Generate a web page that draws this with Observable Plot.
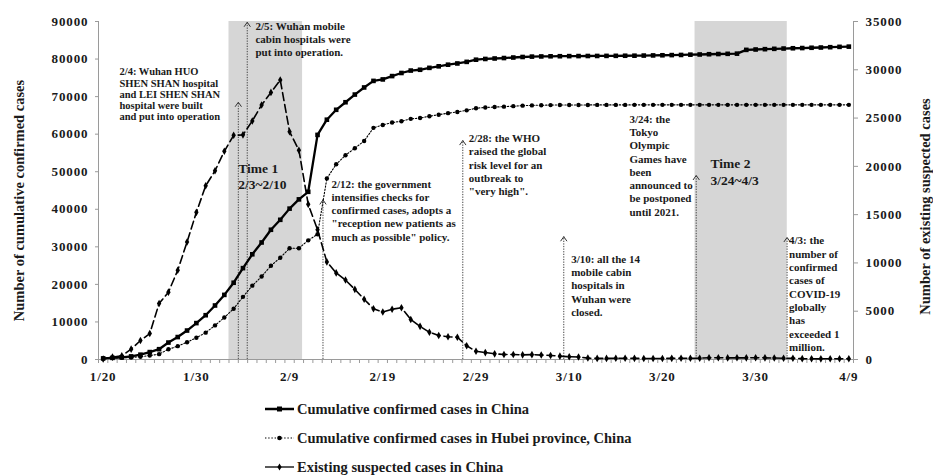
<!DOCTYPE html>
<html><head><meta charset="utf-8">
<script src="https://cdn.jsdelivr.net/npm/d3@7"></script>
<script src="https://cdn.jsdelivr.net/npm/@observablehq/plot@0.6"></script>
<style>
body{margin:0;background:#fff;width:933px;height:476px;overflow:hidden}
#chart svg{display:block}
g[aria-label="y-axis tick label"] text, g[aria-label="x-axis tick label"] text{letter-spacing:0.9px}
.legend{height:86px;padding-top:4.5px;font:bold 14.5px "Liberation Serif","Times New Roman",serif;color:#1a1a1a}
.row{height:29px;display:flex;align-items:center;padding-left:265px}
.row svg{margin-right:3px;display:block}
</style></head><body><div id="chart"></div><div class="legend" id="legend"></div>
<script>
// ---- data ----
const startDate = "2020-01-20";
const china = [291,440,571,830,1287,1975,2744,4515,5974,7711,9692,11791,
  14380,17205,20438,24324,28018,31161,34546,37198,40171,42638,44653,59804,63851,66492,68500,70548,72436,74185,74576,75465,76288,76936,77150,77658,78064,78497,78824,79251,79824,
  80026,80151,80270,80409,80552,80651,80695,80735,80754,80778,80793,80813,80824,80844,80860,80881,80894,80928,80967,81008,81054,81093,81171,81218,81285,81340,81394,81439,82447,82545,82632,
  82724,82802,82875,82930,83005,83071,83158,83249,83306];
const hubei = [270,375,444,549,729,1052,1423,2714,3554,4586,5806,7153,
  9074,11177,13522,16678,19665,22112,24953,27100,29631,29631,31728,33366,48206,51986,54406,56249,58182,61682,62457,63088,63454,64084,64287,64786,65187,65596,65914,66337,66907,
  67103,67217,67332,67466,67592,67666,67707,67743,67760,67773,67781,67786,67790,67794,67798,67799,67800,67800,67800,67800,67800,67800,67801,67801,67801,67801,67801,67801,67801,67801,67802,
  67802,67802,67802,67803,67803,67803,67803,67803,67803];
const suspected = [50,250,393,1072,1965,2684,5794,6973,9239,12167,15238,17988,
  19544,21558,23214,23260,24702,26359,27657,28942,23589,21675,16067,13435,10109,8969,8228,7264,6242,5248,4922,5206,5365,4148,3434,2824,2491,2358,2308,1418,851,
  715,587,520,522,482,502,458,421,349,285,253,147,115,113,134,128,119,105,104,106,118,136,132,134,189,184,168,174,169,183,172,
  153,135,132,88,72,69,83,72,74];
const xTickLabels = ["1/20","1/30","2/9","2/19","2/29","3/10","3/20","3/30","4/9"];
const leftTicks = [0,10000,20000,30000,40000,50000,60000,70000,80000,90000];
const rightTicks = [0,5000,10000,15000,20000,25000,30000,35000];
const seriesNames = ["Cumulative confirmed cases in China","Cumulative confirmed cases in Hubei province, China","Existing suspected cases in China"];
const leftTitle = "Number of cumulative confirmed cases";
const rightTitle = "Number of existing suspected cases";
const periods = [
  {lines:["Time 1","2/3~2/10"], start:"2020-02-02T12:00Z", end:"2020-02-10T09:30Z", tx:"2020-02-03T12:00Z", ty:52900},
  {lines:["Time 2","3/24~4/3"], start:"2020-03-23T12:00Z", end:"2020-04-02T09:30Z", tx:"2020-03-25T04:00Z", ty:54200}
];
const events = [
  {at:"2020-02-03T12:00Z", tip:68500, tx:"2020-01-21T18:00Z", ty:77800, small:true,
   lines:["2/4: Wuhan HUO","SHEN SHAN hospital","and LEI SHEN SHAN","hospital were built","and put into operation"]},
  {at:"2020-02-04T11:00Z", tip:89800, tx:"2020-02-05T08:00Z", ty:90300,
   lines:["2/5: Wuhan mobile","cabin hospitals were","put into operation."]},
  {at:"2020-02-12T14:00Z", tip:42500, tx:"2020-02-13T12:00Z", ty:48300,
   lines:["2/12: the government","intensifies checks for","confirmed cases, adopts a","\"reception new patients as","much as possible\" policy."]},
  {at:"2020-02-27T14:00Z", tip:58300, tx:"2020-02-28T05:30Z", ty:60400,
   lines:["2/28: the WHO","raised the global","risk level for an","outbreak to","\"very high\"."]},
  {at:"2020-03-09T10:00Z", tip:32700, tx:"2020-03-10T05:00Z", ty:28300,
   lines:["3/10: all the 14","mobile cabin","hospitals in","Wuhan were","closed."]},
  {at:"2020-03-23T15:00Z", tip:49000, tx:"2020-03-16T11:00Z", ty:65600,
   lines:["3/24: the","Tokyo","Olympic","Games have","been","announced to","be postponed","until 2021."]},
  {at:"2020-04-02T09:00Z", tip:32500, tx:"2020-04-02T14:00Z", ty:33150,
   lines:["4/3: the","number of","confirmed","cases of","COVID-19","globally","has","exceeded 1","million."]}
];

// ---- build ----
const parse = d3.utcParse("%Y-%m-%d");
const d0 = parse(startDate);
const days = d3.range(china.length).map(i => d3.utcDay.offset(d0, i));
const rows = days.map((date, i) => ({date, china: china[i], hubei: hubei[i], suspected: suspected[i]}));
const leftMax = leftTicks[leftTicks.length - 1], rightMax = rightTicks[rightTicks.length - 1];
const toLeft = v => v * leftMax / rightMax;
const xDomain = [d3.utcHour.offset(days[0], -12), d3.utcHour.offset(days[days.length - 1], 12)];
const minorTicks = days.map(d => d3.utcHour.offset(d, -12)).concat([xDomain[1]]);
const labelMap = new Map(xTickLabels.map(s => { const [m, d] = s.split("/").map(Number); return [Date.UTC(2020, m - 1, d), s]; }));
const tickDates = [...labelMap.keys()].map(t => new Date(t));
const D = s => new Date(s);
const periodRows = periods.map(p => ({...p, start: D(p.start), end: D(p.end), tx: D(p.tx)}));
const eventRows = events.map(e => ({...e, at: D(e.at), tx: D(e.tx)}));
const chevron = {draw(ctx, size) { const s = Math.sqrt(size); ctx.moveTo(-s * 0.6, s * 0.85); ctx.lineTo(0, 0); ctx.lineTo(s * 0.6, s * 0.85); }};
const axisGray = "#9a9a9a", ink = "#1a1a1a";

const chart = Plot.plot({
  width: 933, height: 390,
  marginLeft: 98, marginRight: 80, marginTop: 21, marginBottom: 31,
  style: {fontFamily: '"Liberation Serif","Times New Roman",serif', fontSize: "13px", fontWeight: "bold", color: ink, background: "#fff", overflow: "visible"},
  x: {type: "utc", domain: xDomain},
  y: {domain: [0, leftMax]},
  marks: [
    Plot.rect(periodRows, {x1: "start", x2: "end", y1: 0, y2: leftMax, fill: "#d6d6d6"}),
    Plot.ruleX(xDomain, {stroke: axisGray}),
    Plot.ruleY([0], {stroke: axisGray}),
    Plot.axisY(leftTicks, {anchor: "left", tickSize: 3, tickPadding: 7, tickFormat: d3.format("d"), label: null, stroke: axisGray, fill: ink}),
    Plot.axisY(rightTicks, {anchor: "right", y: toLeft, tickSize: 4, tickPadding: 8, tickFormat: d3.format("d"), label: null, stroke: axisGray, fill: ink}),
    Plot.axisX(minorTicks, {anchor: "bottom", tickSize: 4, tickFormat: () => "", label: null, stroke: axisGray}),
    Plot.axisX(tickDates, {anchor: "bottom", tickSize: 0, tickPadding: 12, tickFormat: d => labelMap.get(+d), label: null, fill: ink}),
    // event arrows
    Plot.ruleX(eventRows, {x: "at", y1: 0, y2: "tip", stroke: "#444", strokeWidth: 1, strokeDasharray: "1.3,1.3"}),
    Plot.dot(eventRows, {x: "at", y: "tip", symbol: chevron, r: 3, fill: "none", stroke: "#333", strokeWidth: 1}),
    // series
    Plot.line(rows, {x: "date", y: d => toLeft(d.suspected), stroke: "#000", strokeWidth: 1.6, strokeDasharray: "8,4"}),
    Plot.dot(rows, {x: "date", y: d => toLeft(d.suspected), symbol: "diamond", r: 2.3, fill: "#000"}),
    Plot.line(rows, {x: "date", y: "hubei", stroke: "#000", strokeWidth: 1.1, strokeDasharray: "1.4,1.8"}),
    Plot.dot(rows, {x: "date", y: "hubei", r: 2.2, fill: "#000"}),
    Plot.line(rows, {x: "date", y: "china", stroke: "#000", strokeWidth: 2.3}),
    Plot.dot(rows, {x: "date", y: "china", symbol: "square", r: 2.6, fill: "#000"}),
    // annotations
    Plot.text(eventRows.filter(e => e.small), {x: "tx", y: "ty", text: d => d.lines.join("\n"), textAnchor: "start", lineAnchor: "top", fontSize: 10.5, lineHeight: 1.07, fill: ink}),
    Plot.text(eventRows.filter(e => !e.small), {x: "tx", y: "ty", text: d => d.lines.join("\n"), textAnchor: "start", lineAnchor: "top", fontSize: 11, lineHeight: 1.21, fill: ink}),
    Plot.text(periodRows, {x: "tx", y: "ty", text: d => d.lines.join("\n"), textAnchor: "start", lineAnchor: "top", fontSize: 13.5, lineHeight: 1.24, fill: ink}),
    // axis titles
    Plot.text([leftTitle], {text: d => d, frameAnchor: "left", textAnchor: "middle", lineAnchor: "middle", dx: -79, dy: 10, rotate: -90, fontSize: 14.5, fill: ink}),
    Plot.text([rightTitle], {text: d => d, frameAnchor: "right", textAnchor: "middle", lineAnchor: "middle", dx: 72, dy: 16, rotate: -90, fontSize: 14.5, fill: ink})
  ]
});
document.getElementById("chart").appendChild(chart);

// legend
const ns = "http://www.w3.org/2000/svg";
const legend = document.getElementById("legend");
const samples = [
  s => { s.innerHTML = '<line x1="0" y1="6" x2="29" y2="6" stroke="#000" stroke-width="2.5"/><rect x="12" y="3.5" width="5" height="5" fill="#000"/>'; },
  s => { s.innerHTML = '<line x1="0" y1="6" x2="29" y2="6" stroke="#000" stroke-width="1.1" stroke-dasharray="1.4,1.8"/><circle cx="14.5" cy="6" r="2.3" fill="#000"/>'; },
  s => { s.innerHTML = '<line x1="0" y1="6" x2="29" y2="6" stroke="#000" stroke-width="1.3"/><path d="M14.5,2.5L16.6,6L14.5,9.5L12.4,6Z" fill="#000"/>'; }
];
seriesNames.forEach((name, i) => {
  const row = document.createElement("div"); row.className = "row";
  const s = document.createElementNS(ns, "svg"); s.setAttribute("width", 29); s.setAttribute("height", 12);
  samples[i](s);
  const t = document.createElement("span"); t.textContent = name;
  row.appendChild(s); row.appendChild(t); legend.appendChild(row);
});
</script></body></html>
